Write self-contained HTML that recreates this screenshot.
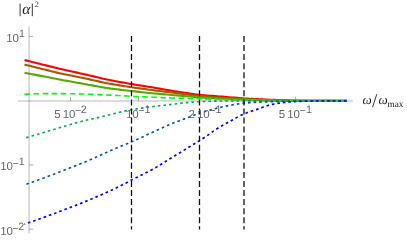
<!DOCTYPE html>
<html><head><meta charset="utf-8"><title>plot</title>
<style>
html,body{margin:0;padding:0;background:#fff;}
body{width:407px;height:240px;overflow:hidden;}
#plot{position:relative;width:407px;height:240px;background:#fff;overflow:hidden;}
#plot svg{position:absolute;left:0;top:0;display:block;font-family:"Liberation Sans",sans-serif;text-rendering:geometricPrecision;}
#axes{filter:grayscale(1);will-change:transform;}
</style></head><body>
<div id="plot">
<svg id="curves" width="407" height="240" viewBox="0 0 407 240">
<path d="M24.5 60 L27 60.64 L29.5 61.27 L32 61.9 L34.5 62.53 L37 63.16 L39.5 63.78 L42 64.4 L44.5 65.02 L47 65.64 L49.5 66.26 L52 66.88 L54.5 67.49 L57 68.09 L59.5 68.68 L62 69.27 L64.5 69.84 L67 70.4 L69.5 70.96 L72 71.51 L74.5 72.06 L77 72.61 L79.5 73.17 L82 73.72 L84.5 74.29 L87 74.86 L89.5 75.45 L92 76.04 L94.5 76.64 L97 77.23 L99.5 77.82 L102 78.4 L104.5 78.96 L107 79.49 L109.5 80.01 L112 80.5 L114.5 80.99 L117 81.47 L119.5 81.93 L122 82.39 L124.5 82.83 L127 83.27 L129.5 83.71 L132 84.14 L134.5 84.55 L137 84.95 L139.5 85.35 L142 85.73 L144.5 86.12 L147 86.52 L149.5 86.92 L152 87.33 L154.5 87.76 L157 88.19 L159.5 88.62 L162 89.06 L164.5 89.5 L167 89.93 L169.5 90.35 L172 90.77 L174.5 91.17 L177 91.57 L179.5 91.97 L182 92.37 L184.5 92.76 L187 93.15 L189.5 93.53 L192 93.89 L194.5 94.22 L197 94.53 L199.5 94.8 L202 95.05 L204.5 95.29 L207 95.51 L209.5 95.72 L212 95.91 L214.5 96.11 L217 96.29 L219.5 96.48 L222 96.67 L224.5 96.86 L227 97.06 L229.5 97.26 L232 97.46 L234.5 97.67 L237 97.87 L239.5 98.06 L242 98.25 L244.5 98.43 L247 98.6 L249.5 98.76 L252 98.91 L254.5 99.04 L257 99.17 L259.5 99.3 L262 99.41 L264.5 99.52 L267 99.63 L269.5 99.73 L272 99.83 L274.5 99.92 L277 100.02 L279.5 100.11 L282 100.2 L284.5 100.28 L287 100.36 L289.5 100.44 L292 100.51 L294.5 100.57 L297 100.62 L299.5 100.68 L302 100.73 L304.5 100.78 L307 100.83 L309.5 100.86 L312 100.89 L314.5 100.9 L317 100.9 L319.5 100.9 L322 100.9 L324.5 100.9 L327 100.9 L329.5 100.9 L332 100.9 L334.5 100.9 L337 100.9 L339.5 100.9 L342 100.9 L344.5 100.9 L347 100.9" fill="none" stroke="#ff0000" stroke-width="2.1" stroke-linejoin="round" />
<path d="M24.5 64.6 L27 65.22 L29.5 65.83 L32 66.45 L34.5 67.06 L37 67.67 L39.5 68.29 L42 68.9 L44.5 69.52 L47 70.14 L49.5 70.77 L52 71.4 L54.5 72.01 L57 72.61 L59.5 73.19 L62 73.74 L64.5 74.27 L67 74.79 L69.5 75.29 L72 75.79 L74.5 76.28 L77 76.78 L79.5 77.27 L82 77.78 L84.5 78.3 L87 78.83 L89.5 79.38 L92 79.94 L94.5 80.51 L97 81.08 L99.5 81.64 L102 82.19 L104.5 82.71 L107 83.21 L109.5 83.68 L112 84.13 L114.5 84.56 L117 84.98 L119.5 85.4 L122 85.8 L124.5 86.19 L127 86.57 L129.5 86.95 L132 87.32 L134.5 87.69 L137 88.05 L139.5 88.4 L142 88.74 L144.5 89.07 L147 89.41 L149.5 89.73 L152 90.06 L154.5 90.38 L157 90.69 L159.5 91 L162 91.3 L164.5 91.61 L167 91.91 L169.5 92.22 L172 92.52 L174.5 92.84 L177 93.16 L179.5 93.5 L182 93.84 L184.5 94.19 L187 94.54 L189.5 94.88 L192 95.21 L194.5 95.51 L197 95.8 L199.5 96.05 L202 96.28 L204.5 96.5 L207 96.71 L209.5 96.92 L212 97.11 L214.5 97.29 L217 97.47 L219.5 97.64 L222 97.81 L224.5 97.97 L227 98.12 L229.5 98.28 L232 98.42 L234.5 98.56 L237 98.7 L239.5 98.83 L242 98.96 L244.5 99.09 L247 99.21 L249.5 99.33 L252 99.45 L254.5 99.56 L257 99.68 L259.5 99.8 L262 99.9 L264.5 100.01 L267 100.1 L269.5 100.18 L272 100.26 L274.5 100.34 L277 100.41 L279.5 100.48 L282 100.55 L284.5 100.61 L287 100.66 L289.5 100.71 L292 100.75 L294.5 100.79 L297 100.81 L299.5 100.83 L302 100.85 L304.5 100.86 L307 100.88 L309.5 100.89 L312 100.9 L314.5 100.9 L317 100.9 L319.5 100.9 L322 100.9 L324.5 100.9 L327 100.9 L329.5 100.9 L332 100.9 L334.5 100.9 L337 100.9 L339.5 100.9 L342 100.9 L344.5 100.9 L347 100.9" fill="none" stroke="#aa5500" stroke-width="2.1" stroke-linejoin="round" />
<path d="M24.5 72.7 L27 73.19 L29.5 73.67 L32 74.16 L34.5 74.64 L37 75.13 L39.5 75.61 L42 76.1 L44.5 76.59 L47 77.08 L49.5 77.57 L52 78.06 L54.5 78.55 L57 79.03 L59.5 79.51 L62 79.97 L64.5 80.43 L67 80.89 L69.5 81.34 L72 81.79 L74.5 82.24 L77 82.68 L79.5 83.12 L82 83.57 L84.5 84.01 L87 84.46 L89.5 84.92 L92 85.39 L94.5 85.85 L97 86.32 L99.5 86.77 L102 87.2 L104.5 87.62 L107 88 L109.5 88.36 L112 88.7 L114.5 89.02 L117 89.33 L119.5 89.63 L122 89.92 L124.5 90.21 L127 90.49 L129.5 90.77 L132 91.06 L134.5 91.34 L137 91.62 L139.5 91.9 L142 92.17 L144.5 92.44 L147 92.7 L149.5 92.95 L152 93.2 L154.5 93.43 L157 93.67 L159.5 93.89 L162 94.12 L164.5 94.34 L167 94.56 L169.5 94.77 L172 94.99 L174.5 95.21 L177 95.42 L179.5 95.64 L182 95.86 L184.5 96.08 L187 96.3 L189.5 96.51 L192 96.72 L194.5 96.92 L197 97.11 L199.5 97.28 L202 97.46 L204.5 97.62 L207 97.79 L209.5 97.95 L212 98.1 L214.5 98.25 L217 98.39 L219.5 98.53 L222 98.65 L224.5 98.78 L227 98.89 L229.5 99 L232 99.11 L234.5 99.21 L237 99.3 L239.5 99.4 L242 99.49 L244.5 99.57 L247 99.66 L249.5 99.75 L252 99.83 L254.5 99.92 L257 100.01 L259.5 100.09 L262 100.18 L264.5 100.25 L267 100.33 L269.5 100.39 L272 100.45 L274.5 100.5 L277 100.56 L279.5 100.61 L282 100.66 L284.5 100.71 L287 100.75 L289.5 100.79 L292 100.82 L294.5 100.84 L297 100.85 L299.5 100.86 L302 100.87 L304.5 100.88 L307 100.89 L309.5 100.89 L312 100.9 L314.5 100.9 L317 100.9 L319.5 100.9 L322 100.9 L324.5 100.9 L327 100.9 L329.5 100.9 L332 100.9 L334.5 100.9 L337 100.9 L339.5 100.9 L342 100.9 L344.5 100.9 L347 100.9" fill="none" stroke="#55aa00" stroke-width="2.1" stroke-linejoin="round" />
<path d="M24.5 94.25 L27 94.14 L29.5 94.03 L32 93.93 L34.5 93.84 L37 93.77 L39.5 93.71 L42 93.67 L44.5 93.65 L47 93.65 L49.5 93.65 L52 93.65 L54.5 93.65 L57 93.65 L59.5 93.65 L62 93.65 L64.5 93.66 L67 93.68 L69.5 93.7 L72 93.72 L74.5 93.76 L77 93.82 L79.5 93.88 L82 93.96 L84.5 94.05 L87 94.14 L89.5 94.24 L92 94.34 L94.5 94.45 L97 94.56 L99.5 94.67 L102 94.78 L104.5 94.88 L107 94.98 L109.5 95.09 L112 95.2 L114.5 95.32 L117 95.44 L119.5 95.57 L122 95.71 L124.5 95.87 L127 96.03 L129.5 96.19 L132 96.33 L134.5 96.45 L137 96.56 L139.5 96.67 L142 96.77 L144.5 96.88 L147 96.98 L149.5 97.08 L152 97.18 L154.5 97.29 L157 97.4 L159.5 97.5 L162 97.61 L164.5 97.71 L167 97.81 L169.5 97.91 L172 98 L174.5 98.08 L177 98.16 L179.5 98.23 L182 98.3 L184.5 98.37 L187 98.43 L189.5 98.49 L192 98.55 L194.5 98.62 L197 98.69 L199.5 98.77 L202 98.85 L204.5 98.94 L207 99.03 L209.5 99.13 L212 99.23 L214.5 99.33 L217 99.42 L219.5 99.52 L222 99.6 L224.5 99.68 L227 99.76 L229.5 99.83 L232 99.9 L234.5 99.97 L237 100.03 L239.5 100.1 L242 100.16 L244.5 100.21 L247 100.27 L249.5 100.32 L252 100.37 L254.5 100.42 L257 100.46 L259.5 100.5 L262 100.54 L264.5 100.58 L267 100.62 L269.5 100.64 L272 100.67 L274.5 100.7 L277 100.72 L279.5 100.74 L282 100.76 L284.5 100.78 L287 100.8 L289.5 100.82 L292 100.83 L294.5 100.84 L297 100.85 L299.5 100.86 L302 100.87 L304.5 100.88 L307 100.89 L309.5 100.89 L312 100.9 L314.5 100.9 L317 100.9 L319.5 100.9 L322 100.9 L324.5 100.9 L327 100.9 L329.5 100.9 L332 100.9 L334.5 100.9 L337 100.9 L339.5 100.9 L342 100.9 L344.5 100.9 L347 100.9" fill="none" stroke="#00ff00" stroke-width="1.6" stroke-linejoin="round" stroke-dasharray="5.65 3.41"/>
<path d="M24.5 138.1 L27 137.39 L29.5 136.68 L32 135.95 L34.5 135.23 L37 134.5 L39.5 133.77 L42 133.03 L44.5 132.3 L47 131.56 L49.5 130.81 L52 130.06 L54.5 129.3 L57 128.55 L59.5 127.79 L62 127.04 L64.5 126.28 L67 125.54 L69.5 124.8 L72 124.05 L74.5 123.31 L77 122.57 L79.5 121.88 L82 121.24 L84.5 120.64 L87 120.07 L89.5 119.51 L92 118.96 L94.5 118.41 L97 117.85 L99.5 117.27 L102 116.66 L104.5 116.03 L107 115.39 L109.5 114.77 L112 114.16 L114.5 113.54 L117 112.91 L119.5 112.3 L122 111.7 L124.5 111.12 L127 110.59 L129.5 110.09 L132 109.65 L134.5 109.23 L137 108.84 L139.5 108.46 L142 108.11 L144.5 107.76 L147 107.41 L149.5 107.07 L152 106.73 L154.5 106.39 L157 106.07 L159.5 105.76 L162 105.47 L164.5 105.19 L167 104.91 L169.5 104.64 L172 104.36 L174.5 104.06 L177 103.73 L179.5 103.41 L182 103.14 L184.5 102.87 L187 102.62 L189.5 102.39 L192 102.17 L194.5 101.98 L197 101.82 L199.5 101.7 L202 101.59 L204.5 101.49 L207 101.4 L209.5 101.32 L212 101.24 L214.5 101.17 L217 101.11 L219.5 101.06 L222 101.03 L224.5 101 L227 100.99 L229.5 100.98 L232 100.97 L234.5 100.95 L237 100.94 L239.5 100.94 L242 100.93 L244.5 100.92 L247 100.91 L249.5 100.91 L252 100.91 L254.5 100.9 L257 100.9 L259.5 100.9 L262 100.9 L264.5 100.9 L267 100.9 L269.5 100.9 L272 100.9 L274.5 100.9 L277 100.9 L279.5 100.9 L282 100.9 L284.5 100.9 L287 100.9 L289.5 100.9 L292 100.9 L294.5 100.9 L297 100.9 L299.5 100.9 L302 100.9 L304.5 100.9 L307 100.9 L309.5 100.9 L312 100.9 L314.5 100.9 L317 100.9 L319.5 100.9 L322 100.9 L324.5 100.9 L327 100.9 L329.5 100.9 L332 100.9 L334.5 100.9 L337 100.9 L339.5 100.9 L342 100.9 L344.5 100.9 L347 100.9" fill="none" stroke="#00aa55" stroke-width="1.6" stroke-linejoin="round" stroke-dasharray="2.6 3.0484" stroke-dashoffset="-1.7"/>
<path d="M24.5 184.9 L27 183.99 L29.5 183.09 L32 182.19 L34.5 181.3 L37 180.41 L39.5 179.51 L42 178.6 L44.5 177.69 L47 176.75 L49.5 175.82 L52 174.87 L54.5 173.92 L57 172.96 L59.5 171.99 L62 171.02 L64.5 170.05 L67 169.07 L69.5 168.1 L72 167.12 L74.5 166.14 L77 165.16 L79.5 164.18 L82 163.18 L84.5 162.18 L87 161.15 L89.5 160.11 L92 159.04 L94.5 157.93 L97 156.8 L99.5 155.65 L102 154.48 L104.5 153.32 L107 152.17 L109.5 151.04 L112 149.93 L114.5 148.86 L117 147.82 L119.5 146.81 L122 145.8 L124.5 144.8 L127 143.79 L129.5 142.75 L132 141.68 L134.5 140.59 L137 139.47 L139.5 138.33 L142 137.18 L144.5 136.02 L147 134.85 L149.5 133.69 L152 132.53 L154.5 131.38 L157 130.25 L159.5 129.13 L162 128 L164.5 126.88 L167 125.77 L169.5 124.68 L172 123.62 L174.5 122.6 L177 121.64 L179.5 120.71 L182 119.8 L184.5 118.89 L187 117.97 L189.5 117 L192 115.97 L194.5 114.93 L197 113.96 L199.5 113.1 L202 112.33 L204.5 111.6 L207 110.9 L209.5 110.2 L212 109.51 L214.5 108.83 L217 108.16 L219.5 107.53 L222 106.94 L224.5 106.4 L227 105.9 L229.5 105.41 L232 104.95 L234.5 104.5 L237 104.09 L239.5 103.72 L242 103.4 L244.5 103.12 L247 102.89 L249.5 102.7 L252 102.54 L254.5 102.39 L257 102.26 L259.5 102.13 L262 102.02 L264.5 101.91 L267 101.81 L269.5 101.72 L272 101.63 L274.5 101.54 L277 101.45 L279.5 101.37 L282 101.29 L284.5 101.22 L287 101.15 L289.5 101.09 L292 101.05 L294.5 101.01 L297 100.99 L299.5 100.98 L302 100.96 L304.5 100.95 L307 100.93 L309.5 100.92 L312 100.91 L314.5 100.91 L317 100.9 L319.5 100.9 L322 100.9 L324.5 100.9 L327 100.9 L329.5 100.9 L332 100.9 L334.5 100.9 L337 100.9 L339.5 100.9 L342 100.9 L344.5 100.9 L347 100.9" fill="none" stroke="#0055aa" stroke-width="1.65" stroke-linejoin="round" stroke-dasharray="2.6 3.0418" stroke-dashoffset="-2.0"/>
<path d="M24.5 224.2 L27 223.29 L29.5 222.4 L32 221.54 L34.5 220.69 L37 219.84 L39.5 218.96 L42 218.07 L44.5 217.16 L47 216.24 L49.5 215.31 L52 214.37 L54.5 213.43 L57 212.48 L59.5 211.53 L62 210.58 L64.5 209.62 L67 208.67 L69.5 207.71 L72 206.76 L74.5 205.8 L77 204.84 L79.5 203.87 L82 202.88 L84.5 201.88 L87 200.86 L89.5 199.82 L92 198.78 L94.5 197.72 L97 196.65 L99.5 195.57 L102 194.47 L104.5 193.36 L107 192.23 L109.5 191.08 L112 189.92 L114.5 188.73 L117 187.49 L119.5 186.23 L122 184.95 L124.5 183.69 L127 182.41 L129.5 181.13 L132 179.84 L134.5 178.57 L137 177.31 L139.5 176.06 L142 174.8 L144.5 173.54 L147 172.26 L149.5 170.97 L152 169.64 L154.5 168.28 L157 166.88 L159.5 165.41 L162 163.84 L164.5 162.22 L167 160.61 L169.5 159.06 L172 157.52 L174.5 155.98 L177 154.45 L179.5 152.93 L182 151.4 L184.5 149.87 L187 148.34 L189.5 146.81 L192 145.28 L194.5 143.74 L197 142.2 L199.5 140.64 L202 139.08 L204.5 137.49 L207 135.81 L209.5 133.97 L212 132.1 L214.5 130.33 L217 128.73 L219.5 127.21 L222 125.76 L224.5 124.34 L227 122.96 L229.5 121.58 L232 120.18 L234.5 118.76 L237 117.37 L239.5 116.03 L242 114.79 L244.5 113.68 L247 112.71 L249.5 111.82 L252 110.96 L254.5 110.16 L257 109.36 L259.5 108.5 L262 107.56 L264.5 106.62 L267 105.75 L269.5 105.02 L272 104.45 L274.5 103.94 L277 103.49 L279.5 103.1 L282 102.76 L284.5 102.47 L287 102.19 L289.5 101.95 L292 101.74 L294.5 101.57 L297 101.46 L299.5 101.36 L302 101.27 L304.5 101.18 L307 101.1 L309.5 101.04 L312 100.98 L314.5 100.94 L317 100.91 L319.5 100.9 L322 100.9 L324.5 100.9 L327 100.9 L329.5 100.9 L332 100.9 L334.5 100.9 L337 100.9 L339.5 100.9 L342 100.9 L344.5 100.9 L347 100.9" fill="none" stroke="#0000ff" stroke-width="1.7" stroke-linejoin="round" stroke-dasharray="2.6 2.9583" stroke-dashoffset="-3.6"/>
<line x1="131.5" y1="36" x2="131.5" y2="229.6" stroke="#111" stroke-width="1.3" stroke-dasharray="6 3.06"/>
<line x1="199.5" y1="36" x2="199.5" y2="229.6" stroke="#111" stroke-width="1.3" stroke-dasharray="6 3.06"/>
<line x1="244.0" y1="36" x2="244.0" y2="229.6" stroke="#111" stroke-width="1.3" stroke-dasharray="6 3.06"/>
</svg>
<svg id="axes" width="407" height="240" viewBox="0 0 407 240">
<line x1="18.1" y1="101.0" x2="352.8" y2="101.0" stroke="#666" stroke-width="0.48"/>
<line x1="29.05" y1="26.4" x2="29.05" y2="233.3" stroke="#666" stroke-width="0.48"/>
<line x1="70.5" y1="96.9" x2="70.5" y2="101.0" stroke="#666" stroke-width="0.52"/>
<line x1="138.5" y1="96.9" x2="138.5" y2="101.0" stroke="#666" stroke-width="0.52"/>
<line x1="206.0" y1="96.9" x2="206.0" y2="101.0" stroke="#666" stroke-width="0.52"/>
<line x1="295.5" y1="96.9" x2="295.5" y2="101.0" stroke="#666" stroke-width="0.52"/>
<line x1="29.05" y1="36.4" x2="33.2" y2="36.4" stroke="#666" stroke-width="0.52"/>
<line x1="29.05" y1="165.0" x2="33.2" y2="165.0" stroke="#666" stroke-width="0.52"/>
<line x1="29.05" y1="229.2" x2="33.2" y2="229.2" stroke="#666" stroke-width="0.52"/>
<text x="54.3" y="117.5" fill="#666666" font-size="11.5" letter-spacing="-0.15">5<tspan dx="2.3">10</tspan><tspan dy="-3.30" font-size="10.8" dx="-0.3">−</tspan><tspan dy="-1.0" font-size="10.8" dx="-0.4">2</tspan></text>
<text x="126.0" y="117.5" fill="#666666" font-size="11.5" letter-spacing="-0.15">10<tspan dy="-3.30" font-size="10.8" dx="-0.3">−</tspan><tspan dy="-1.0" font-size="10.8" dx="0.2">1</tspan></text>
<text x="188.4" y="117.5" fill="#666666" font-size="11.5" letter-spacing="-0.15">2<tspan dx="2.3">10</tspan><tspan dy="-3.30" font-size="10.8" dx="-0.3">−</tspan><tspan dy="-1.0" font-size="10.8" dx="0.2">1</tspan></text>
<text x="278.8" y="117.5" fill="#666666" font-size="11.5" letter-spacing="-0.15">5<tspan dx="2.3">10</tspan><tspan dy="-3.30" font-size="10.8" dx="-0.3">−</tspan><tspan dy="-1.0" font-size="10.8" dx="0.2">1</tspan></text>
<text x="6.2" y="42.0" fill="#666666" font-size="11.5" letter-spacing="-0.15">10<tspan dy="-4.8" font-size="10.6" dx="0.3">1</tspan></text>
<text x="0.3" y="170.0" fill="#666666" font-size="11.5" letter-spacing="-0.15">10<tspan dy="-3.30" font-size="10.6" dx="-0.3">−</tspan><tspan dy="-1.5" font-size="10.6" dx="0.2">1</tspan></text>
<text x="0.3" y="234.8" fill="#666666" font-size="11.5" letter-spacing="-0.15">10<tspan dy="-3.30" font-size="10.6" dx="-0.3">−</tspan><tspan dy="-1.5" font-size="10.6" dx="-0.4">2</tspan></text>
<g font-family="'Liberation Serif', serif" fill="#222"><line x1="20.1" y1="3.6" x2="20.1" y2="16.2" stroke="#222" stroke-width="0.9"/><line x1="32.3" y1="3.6" x2="32.3" y2="16.2" stroke="#222" stroke-width="0.9"/><text x="22.2" y="13.8" font-size="15.5" font-style="italic">α</text><text x="34.7" y="7.0" font-size="8.3">2</text><text x="362.6" y="103.6" font-size="13" font-style="italic">ω</text><line x1="372.6" y1="107.1" x2="376.8" y2="94.2" stroke="#222" stroke-width="0.9"/><text x="378.5" y="103.6" font-size="13" font-style="italic">ω</text><text x="387.5" y="106.7" font-size="9.3">max</text></g>
</svg>
</div>
</body></html>
